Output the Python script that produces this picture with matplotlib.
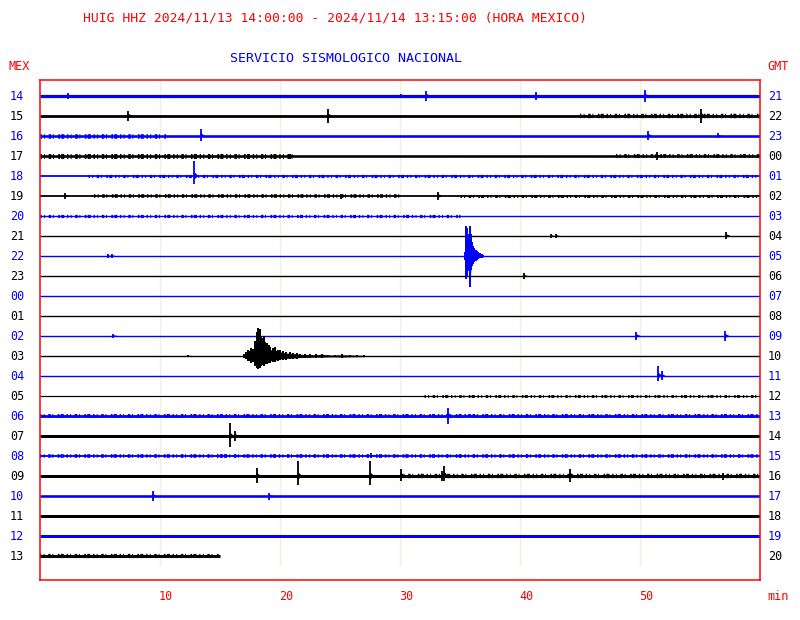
import matplotlib
matplotlib.use("Agg")
import matplotlib.pyplot as plt
import matplotlib.transforms as mtransforms
import numpy as np

# ---------------- data ----------------
TITLE = "HUIG HHZ 2024/11/13 14:00:00 - 2024/11/14 13:15:00 (HORA MEXICO)"
SUBTITLE = "SERVICIO SISMOLOGICO NACIONAL"
MEX_HOURS = ["14", "15", "16", "17", "18", "19", "20", "21", "22", "23", "00", "01",
             "02", "03", "04", "05", "06", "07", "08", "09", "10", "11", "12", "13"]
GMT_HOURS = ["21", "22", "23", "00", "01", "02", "03", "04", "05", "06", "07", "08",
             "09", "10", "11", "12", "13", "14", "15", "16", "17", "18", "19", "20"]
MINUTE_TICKS = [10, 20, 30, 40, 50]
LAST_ROW_END_MIN = 15.0

# background noise level of each row (pixel-ish amplitude units, row spacing = 20)
NOISE = [3.2, 2.8, 2.6, 2.6, 1.8, 1.8, 1.4, 1.4, 1.4, 1.4, 1.4, 1.4,
         1.4, 1.4, 1.4, 1.2, 2.8, 3.0, 1.9, 3.0, 2.6, 3.0, 3.0, 3.0]

# bursty noise segments: row (MEX hour), start min, end min, extra amplitude
BURST_ROW = ["16", "17", "19", "20", "18", "05", "06", "08", "09", "15", "17", "19", "13"]
BURST_T0 = [0.0, 0.0, 4.5, 0.0, 4.0, 32.0, 0.0, 0.0, 30.0, 45.0, 48.0, 35.0, 0.0]
BURST_T1 = [10.5, 21.0, 30.0, 35.0, 60.0, 60.0, 60.0, 60.0, 60.0, 60.0, 60.0, 60.0, 15.0]
BURST_AMP = [1.0, 1.2, 0.9, 0.9, 0.7, 0.8, 0.6, 0.9, 0.7, 0.8, 0.6, 0.6, 0.6]

# discrete events: row (MEX hour), minute, upward and downward amplitude
EV_ROW = ["14", "14", "14", "14", "14", "14",
          "15", "15", "15",
          "16", "16", "16",
          "17", "17",
          "18",
          "19", "19", "19",
          "21", "21", "21",
          "22", "22",
          "23",
          "02", "02", "02",
          "03",
          "04", "04",
          "06", "06",
          "07", "07",
          "08", "08",
          "09", "09", "09", "09", "09", "09", "09", "09",
          "10", "10",
          "11", "12"]
EV_MIN = [2.36, 4.6, 30.1, 32.2, 41.3, 50.4,
          7.36, 23.97, 55.1,
          13.4, 50.7, 56.5,
          20.8, 51.4,
          12.86,
          2.08, 25.1, 33.2,
          42.6, 43.0, 57.2,
          5.64, 5.97,
          40.3,
          6.1, 49.7, 57.1,
          12.3,
          51.5, 51.8,
          33.97, 35.8,
          15.8, 16.25,
          15.4, 27.6,
          18.05, 21.5, 27.5, 30.1, 33.5, 33.7, 44.2, 56.9,
          9.4, 19.1,
          9.0, 43.9]
EV_UP = [3, 1.5, 2, 5, 4, 6,
         5, 7, 7,
         7, 5, 3,
         2.5, 4,
         15,
         3, 2.5, 4,
         2, 2, 4,
         2, 2,
         2.7,
         2, 4, 5,
         1.2,
         10, 5,
         8, 2,
         13, 5,
         2, 3,
         8, 15, 15, 7, 5, 10, 7, 3.5,
         5, 3.5,
         1.5, 1.5]
EV_DOWN = [3, 1.5, 2, 5, 4, 6,
           5, 7, 7,
           5, 4, 2,
           2.5, 4,
           8,
           3, 2.5, 4,
           2, 2, 3,
           2, 2,
           2.7,
           2, 4, 5,
           1.2,
           5, 4,
           8, 1,
           11, 5,
           2, 2,
           7, 9, 9, 5, 5, 5, 6, 3.5,
           5, 3.5,
           1.5, 1]

# large event on row 22 (MEX)
Q22_T = [35.40, 35.47, 35.55, 35.62, 35.70, 35.78, 35.86, 35.93, 36.00, 36.10,
         36.20, 36.30, 36.40, 36.52, 36.65, 36.80, 36.95]
Q22_UP = [4, 30, 28, 20, 22, 18, 30, 22, 14, 10, 8, 6, 5, 4, 3, 2, 1]
Q22_DOWN = [4, 23, 20, 14, 15, 13, 31, 14, 10, 8, 6, 5, 4, 3, 2, 1.5, 1]

# large event on row 03 (MEX)
Q03_T = [17.00, 17.15, 17.30, 17.45, 17.60, 17.75, 17.90, 18.05, 18.15, 18.25,
         18.35, 18.45, 18.55, 18.65, 18.75, 18.90, 19.05, 19.20, 19.40, 19.60,
         19.80, 20.00, 20.25, 20.50, 20.80, 21.10, 21.40, 21.70, 22.10, 22.50,
         23.00, 23.50, 24.00, 24.60, 25.20, 25.80, 26.40, 27.00]
Q03_UP = [2, 4, 6, 5, 8, 7, 15, 24, 28, 22, 27, 20, 18, 20, 14, 13, 11, 9, 8, 9,
          6, 6, 5, 4, 4, 3.5, 3, 2.5, 2, 2, 1.8, 2.5, 1.5, 1.5, 1.8, 1.5, 1.2, 1]
Q03_DOWN = [2, 3, 5, 5, 7, 6, 10, 12, 13, 11, 12, 10, 9, 10, 8, 8, 7, 7, 6, 6,
            5, 4, 4, 3.5, 3, 3, 2.5, 2.2, 2, 1.8, 1.5, 1.8, 1.3, 1.3, 1.5, 1.2, 1, 1]

# ---------------- figure ----------------
plt.rcParams["lines.scale_dashes"] = False
FONT = ["DejaVu Sans Mono"]
BLUE = "#0000ff"
RED = "#ff0000"
ROW_SPACING = 20.0
PX_PT = 0.72  # points per pixel at 100 dpi
BURST_DASH = (1.0, 1.6, 0.7, 2.6, 1.8, 1.2, 0.7, 3.2, 1.2, 0.9, 2.2, 2.0)

fig = plt.figure(figsize=(8, 6.2), dpi=100)
ax = fig.add_axes([0.05, 40 / 620, 0.9, 500 / 620])
ax.set_xlim(0, 60)
ax.set_ylim(-(23 * ROW_SPACING + 24), 16)
ax.set_xticks([])
ax.set_yticks([])
for s in ax.spines.values():
    s.set_color(RED)
    s.set_linewidth(1.1)

row_index = {h: i for i, h in enumerate(MEX_HOURS)}


def base(i):
    return -i * ROW_SPACING


def color(i):
    return BLUE if i % 2 == 0 else "black"


# grid
ax.vlines(MINUTE_TICKS, -(23 * ROW_SPACING + 10), 16, color="#f1f1d9", lw=1.0, zorder=0)

# baselines
for i, h in enumerate(MEX_HOURS):
    end = LAST_ROW_END_MIN if i == len(MEX_HOURS) - 1 else 60
    ax.plot([0, end], [base(i), base(i)], color=color(i), lw=NOISE[i] * PX_PT,
            solid_capstyle="butt", zorder=2)

# bursty noise
for r, t0, t1, a in zip(BURST_ROW, BURST_T0, BURST_T1, BURST_AMP):
    i = row_index[r]
    ax.plot([t0, t1], [base(i), base(i)], color=color(i),
            lw=(NOISE[i] + 2 * a) * PX_PT, solid_capstyle="butt", zorder=2,
            dashes=BURST_DASH)

# discrete events
for r, t, up, dn in zip(EV_ROW, EV_MIN, EV_UP, EV_DOWN):
    i = row_index[r]
    b = base(i)
    c = color(i)
    ax.vlines(t, b - dn, b + up, color=c, lw=1.3, zorder=3)
    hu = min(up * 0.45, 4.0)
    hd = min(dn * 0.45, 4.0)
    ax.fill([t - 0.08, t, t + 0.35, t], [b, b + hu, b, b - hd], color=c,
            lw=0, zorder=3)

# large events
for T, U, D, r in [(Q22_T, Q22_UP, Q22_DOWN, "22"), (Q03_T, Q03_UP, Q03_DOWN, "03")]:
    i = row_index[r]
    b = base(i)
    c = color(i)
    T = np.asarray(T)
    U = np.asarray(U, float)
    D = np.asarray(D, float)
    ax.fill_between(T, b + 0.7 * U, b - 0.7 * D, color=c, lw=0, zorder=3)
    ax.vlines(T, b - D, b + U, color=c, lw=1.4, zorder=3)

# row labels
tl = mtransforms.blended_transform_factory(fig.transFigure, ax.transData)
for i, (m, g) in enumerate(zip(MEX_HOURS, GMT_HOURS)):
    ax.text(17 / 800, base(i), m, transform=tl, ha="center", va="center",
            color=color(i), fontsize=8.5, family=FONT)
    ax.text(775 / 800, base(i), g, transform=tl, ha="center", va="center",
            color=color(i), fontsize=8.5, family=FONT)

# minute tick labels
tx = mtransforms.blended_transform_factory(ax.transData, fig.transFigure)
for m in MINUTE_TICKS:
    ax.text(m + 0.5, 1 - 596 / 620, str(m), transform=tx, ha="center", va="center",
            color=RED, fontsize=8.5, family=FONT)
fig.text(778 / 800, 1 - 597 / 620, "min", ha="center", va="center", color=RED,
         fontsize=8.5, family=FONT)
fig.text(19 / 800, 1 - 66 / 620, "MEX", ha="center", va="center", color=RED,
         fontsize=8.5, family=FONT)
fig.text(778 / 800, 1 - 66 / 620, "GMT", ha="center", va="center", color=RED,
         fontsize=8.5, family=FONT)

fig.text(335 / 800, 1 - 18 / 620, TITLE, ha="center", va="center", color=RED,
         fontsize=9.4, family=FONT)
fig.text(346 / 800, 1 - 58 / 620, SUBTITLE, ha="center", va="center", color=BLUE,
         fontsize=9.6, family=FONT)

fig.savefig("out.png", dpi=100)
